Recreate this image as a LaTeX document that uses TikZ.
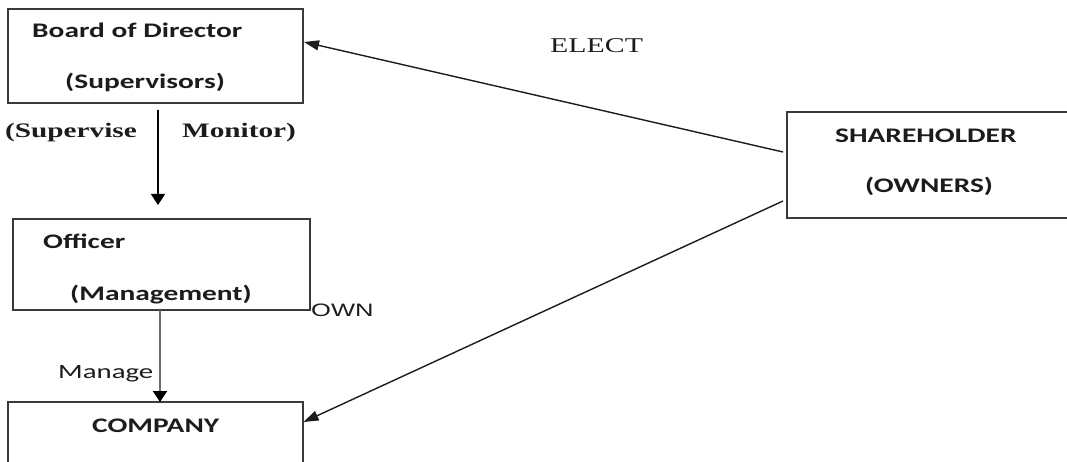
\documentclass[tikz,border=0pt]{standalone}
\usepackage{fontspec}
\usetikzlibrary{arrows.meta}
% Widened faces used for all labels
\newfontfamily\calfont[FakeStretch=1.42]{Carlito}
\newfontfamily\tmsfont[FakeStretch=1.42]{Liberation Serif}
\newfontfamily\arifont[FakeStretch=1.42]{Liberation Sans}
\definecolor{ink}{HTML}{1C1C1C}
\definecolor{frame}{HTML}{3A3A3A}
\tikzset{
  box/.style={draw=frame, line width=1.5pt, rectangle, inner sep=0pt},
  lbl/.style={anchor=base west, inner sep=0pt, text=ink},
  boxtxt/.style={lbl, font=\calfont\bfseries\fontsize{20.7}{24}\selectfont},
  sertxt/.style={lbl, font=\tmsfont\bfseries\fontsize{20.6}{24}\selectfont},
  vline/.style={line width=1.7pt, -{Triangle[length=11pt,width=14pt]}},
  dline/.style={line width=1.4pt, -{Triangle[length=15pt,width=10pt]}},
}
\begin{document}
\begin{tikzpicture}[x=1pt,y=-1pt]
  \useasboundingbox (0,0) rectangle (1067,462);
  \clip (0,0) rectangle (1067,462);

  % boxes
  \node[box, minimum width=295pt, minimum height=94pt] (board) at (155.5,56) {};
  \node[box, minimum width=297pt, minimum height=91pt] (officer) at (161.5,264.5) {};
  \node[box, minimum width=295pt, minimum height=80pt] (company) at (155.5,442) {};
  \node[box, minimum width=290pt, minimum height=106pt] (share) at (932,165) {};

  % box texts
  \node[boxtxt] (t1) at (32,38) {Board of Director};
  \node[boxtxt] (t2) at (65,89) {(Supervisors)};
  \node[boxtxt] (t3) at (43,248) {Officer};
  \node[boxtxt] (t4) at (70,300) {(Management)};
  \node[boxtxt] (t5) at (92,432) {COMPANY};
  \node[boxtxt] (t6) at (835,143) {SHAREHOLDER};
  \node[boxtxt] (t7) at (865,193) {(OWNERS)};

  % connector labels
  \node[sertxt] (l1) at (5,138) {(Supervise};
  \node[sertxt] (l2) at (182,138) {Monitor)};
  \node[lbl, font=\tmsfont\fontsize{21}{26}\selectfont] (l3) at (550,53) {ELECT};
  \node[lbl, font=\arifont\fontsize{18}{22}\selectfont] (l4) at (311,316) {OWN};
  \node[lbl, font=\calfont\fontsize{20.3}{24}\selectfont] (l5) at (58,378) {Manage};

  % connector end points
  \coordinate (sup-a) at (158,110);
  \coordinate (sup-b) at (158,205);
  \coordinate (el-a) at (783,152);
  \coordinate (el-b) at (304,42);
  \coordinate (own-a) at (783,201);
  \coordinate (own-b) at (303.5,422);
  \coordinate (man-a) at (160,310);
  \coordinate (man-b) at (160,402);

  % connectors
  \draw[vline, draw=black] (sup-a) -- (sup-b);
  \draw[vline, draw=gray!85!black, line width=2pt,
        -{Triangle[length=11pt,width=14pt,fill=black,color=black]}] (man-a) -- (man-b);
  \draw[dline, draw=ink] (el-a) -- (el-b);
  \draw[dline, draw=ink] (own-a) -- (own-b);
\end{tikzpicture}
\end{document}
